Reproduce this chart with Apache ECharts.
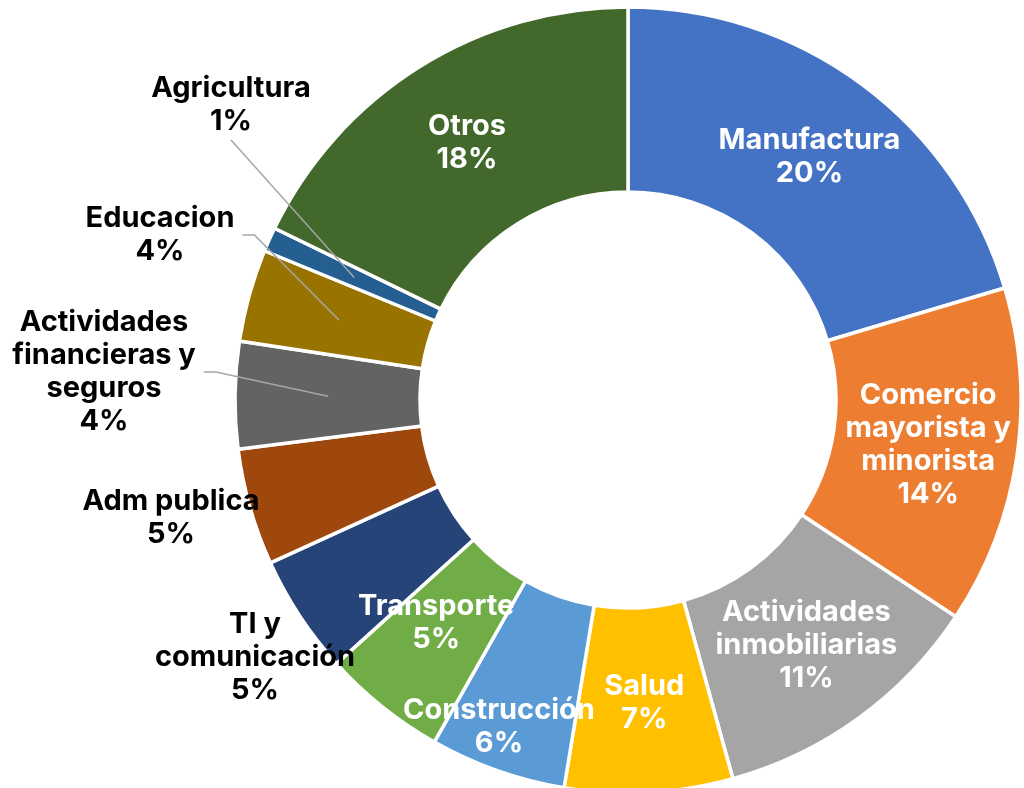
<!DOCTYPE html>
<html>
<head>
<meta charset="utf-8">
<script src="https://cdn.jsdelivr.net/npm/echarts@6/dist/echarts.min.js"></script>
<style>
  html, body { margin: 0; padding: 0; background: #ffffff; }
  #chart { width: 1024px; height: 788px; }
</style>
</head>
<body>
<div id="chart"></div>
<script>
// Sector shares (%), in clockwise order starting at 12 o'clock
const sectors = [
  'Manufactura',
  'Comercio\nmayorista y\nminorista',
  'Actividades\ninmobiliarias',
  'Salud',
  'Construcción',
  'Transporte',
  'TI y\ncomunicación',
  'Adm publica',
  'Actividades\nfinancieras y\nseguros',
  'Educacion',
  'Agricultura',
  'Otros'
];
const shares = [20.4, 13.9, 11.4, 6.9, 5.6, 5.1, 4.9, 4.8, 4.4, 3.8, 1.0, 17.8];
const colors = ['#4472C4', '#ED7D31', '#A5A5A5', '#FFC000', '#5B9BD5', '#70AD47',
                '#264478', '#9E480E', '#636363', '#997300', '#255E91', '#43682B'];

// Ring geometry
const CENTER = [628, 400];
const INNER_R = 208;
const OUTER_R = 393;
const MID_R = 300;

// Labels drawn outside the ring: [x, y] of the text block centre, and leader style
const outsideLabels = {
  'TI y\ncomunicación':                   { pos: [255, 657], leader: null },
  'Adm publica':                          { pos: [171, 518], leader: null },
  'Actividades\nfinancieras y\nseguros':  { pos: [104, 372], leader: 'right' },
  'Educacion':                            { pos: [160, 235], leader: 'right' },
  'Agricultura':                          { pos: [231, 105], leader: 'bottom' }
};
// Inside labels nudged away from the ring's mid radius
const insideNudge = {
  'Transporte':   [-2, -14],
  'Construcción': [-28, 41]
};

const FONT = 'Inter';
const FONT_SIZE = 29;
const LINE_H = 33;
const pctLabel = p => p.name + '\n' + Math.round(p.percent) + '%';

const ringData = sectors.map((name, i) => ({
  name: name,
  value: shares[i],
  itemStyle: { color: colors[i] },
  label: { show: !outsideLabels[name] }
}));

const anchorData = sectors.map((name, i) => {
  const o = outsideLabels[name];
  return {
    name: name,
    value: shares[i],
    label: { show: !!o },
    labelLine: { show: !!(o && o.leader) }
  };
});

// Pull the library's leader start point onto the ring's mid radius, keeping its angle
function toMidRadius(pt) {
  const dx = pt[0] - CENTER[0], dy = pt[1] - CENTER[1];
  const d = Math.sqrt(dx * dx + dy * dy) || 1;
  return [CENTER[0] + dx / d * MID_R, CENTER[1] + dy / d * MID_R];
}

const chart = echarts.init(document.getElementById('chart'), null, { renderer: 'canvas' });

chart.setOption({
  backgroundColor: '#ffffff',
  animation: false,
  series: [
    {
      // the ring itself, with labels inside the slices
      type: 'pie',
      z: 2,
      center: CENTER,
      radius: [INNER_R, OUTER_R],
      startAngle: 90,
      clockwise: true,
      avoidLabelOverlap: false,
      silent: true,
      itemStyle: { borderColor: '#ffffff', borderWidth: 3.5 },
      label: {
        position: 'inside',
        formatter: pctLabel,
        color: '#ffffff',
        fontFamily: FONT,
        fontWeight: 'bold',
        fontSize: FONT_SIZE,
        lineHeight: LINE_H,
        align: 'center'
      },
      labelLine: { show: false },
      labelLayout: function (p) {
        const n = insideNudge[sectors[p.dataIndex]];
        return n ? { dx: n[0], dy: n[1] } : {};
      },
      data: ringData
    },
    {
      // invisible pie reaching the ring's mid radius: carries the outside labels,
      // drawn above the ring so its leader lines cross the slices
      type: 'pie',
      z: 5,
      center: CENTER,
      radius: [0, MID_R],
      startAngle: 90,
      clockwise: true,
      avoidLabelOverlap: false,
      silent: true,
      itemStyle: { color: 'rgba(0,0,0,0)', borderWidth: 0 },
      emphasis: { disabled: true },
      label: {
        position: 'outside',
        formatter: pctLabel,
        color: '#000000',
        fontFamily: FONT,
        fontWeight: 'bold',
        fontSize: FONT_SIZE,
        lineHeight: LINE_H,
        align: 'center'
      },
      labelLine: {
        length: 20,
        length2: 12,
        lineStyle: { color: '#a6a6a6', width: 1.5 }
      },
      labelLayout: function (p) {
        const o = outsideLabels[sectors[p.dataIndex]];
        if (!o) return {};
        const x = o.pos[0], y = o.pos[1];
        const out = { x: x, y: y, align: 'center', verticalAlign: 'middle' };
        const w = p.labelRect.width, h = p.labelRect.height;
        const a = p.labelLinePoints && p.labelLinePoints[0];
        if (a && o.leader === 'right') {
          const ex = x + w / 2 + 8;
          out.labelLinePoints = [toMidRadius(a), [ex + 12, y], [ex, y]];
        } else if (a && o.leader === 'bottom') {
          const ey = y + h / 2 + 2;
          out.labelLinePoints = [toMidRadius(a), [x, ey], [x, ey]];
        }
        return out;
      },
      data: anchorData
    }
  ]
});
</script>
</body>
</html>
